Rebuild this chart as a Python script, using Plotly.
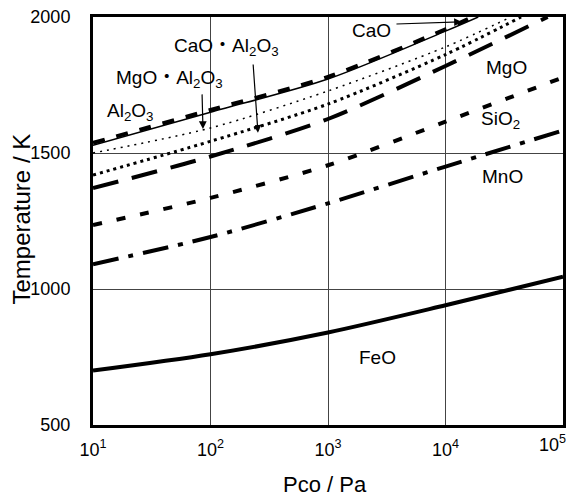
import plotly.graph_objects as go

# ---- data ----
P_dec = [10, 100, 1000, 10000, 100000]

feo_T = [700, 760, 840, 940, 1045]
mno_T = [1091, 1191, 1315, 1450, 1583]
sio2_T = [1235, 1335, 1455, 1615, 1778]

mgo_P = [10, 100, 1000, 10000, 74000]
mgo_T = [1371, 1487, 1625, 1820, 2000]

caoal_P = [10, 100, 1000, 10000, 44000]
caoal_T = [1419, 1543, 1680, 1862, 2000]

mgoal_P = [10, 100, 1000, 10000, 36000]
mgoal_T = [1500, 1592, 1728, 1890, 2000]

cao_P = [10, 100, 1000, 10000, 19000]
cao_T = [1528, 1650, 1772, 1948, 2000]

al2o3_P = [10, 100, 1000, 10000, 17000]
al2o3_T = [1537, 1658, 1780, 1955, 2000]

x_tickvals = [10, 100, 1000, 10000, 100000]
x_ticktext = ["10<sup>1</sup>", "10<sup>2</sup>", "10<sup>3</sup>", "10<sup>4</sup>", "10<sup>5</sup>"]
y_tickvals = [500, 1000, 1500, 2000]

FONT = "Liberation Sans, Arial, Noto Sans CJK JP, sans-serif"

fig = go.Figure()

def add(xs, ys, width, dash):
    fig.add_trace(go.Scatter(x=xs, y=ys, mode="lines",
                             line=dict(color="black", width=width, dash=dash,
                                       shape="spline", smoothing=0.8),
                             showlegend=False, hoverinfo="skip"))

add(P_dec, feo_T, 4, "solid")
add(P_dec, mno_T, 4, "26px,10px,5px,10px")
add(P_dec, sio2_T, 4, "9px,15px")
add(mgo_P, mgo_T, 4, "26px,14px")
add(caoal_P, caoal_T, 3, "3px,4px")
add(mgoal_P, mgoal_T, 1.5, "2px,5px")
add(al2o3_P, al2o3_T, 4, "12px,12px")
add(cao_P, cao_T, 1.5, "solid")

ann = []
def label(x, y, text, size=19):
    ann.append(dict(x=x, y=y, xref="x", yref="y", text=text, showarrow=False,
                    font=dict(family=FONT, size=size, color="black"),
                    xanchor="center", yanchor="middle"))

label(3.374, 1952, "CaO")
label(4.523, 1816, "MgO")
label(4.472, 1621, "SiO<sub>2</sub>")
label(4.489, 1412, "MnO")
label(3.417, 750, "FeO")
label(1.315, 1651, "Al<sub>2</sub>O<sub>3</sub>")
label(1.655, 1772, "MgO・Al<sub>2</sub>O<sub>3</sub>")
label(2.132, 1890, "CaO・Al<sub>2</sub>O<sub>3</sub>")

def arrow(tx, ty, hx, hy):
    ann.append(dict(x=hx, y=hy, ax=tx, ay=ty, xref="x", yref="y", axref="x", ayref="y",
                    text="", showarrow=True, arrowhead=2, arrowsize=1.3,
                    arrowwidth=1.2, arrowcolor="black", standoff=0, startstandoff=0))

arrow(3.57, 1974, 4.14, 1982)
arrow(1.928, 1721, 1.936, 1588)
arrow(2.362, 1831, 2.404, 1574)

# axis titles as text annotations
ann.append(dict(x=-0.152, y=0.505, xref="paper", yref="paper", text="Temperature / K",
                textangle=-90, showarrow=False, xanchor="center", yanchor="middle",
                font=dict(family=FONT, size=24, color="black")))
ann.append(dict(x=0.494, y=-0.147, xref="paper", yref="paper", text="Pco / Pa",
                showarrow=False, xanchor="center", yanchor="middle",
                font=dict(family=FONT, size=22, color="black")))

# last x tick label sits at the window edge: draw it right-aligned so it stays whole
ann.append(dict(x=1.01, y=-0.012, xref="paper", yref="paper", text=x_ticktext[-1],
                showarrow=False, xanchor="right", yanchor="top",
                font=dict(family=FONT, size=18, color="black")))
tick_text_shown = x_ticktext[:-1] + [""]

# the page body adds an 8px offset, so the figure is sized to fit the window
fig.update_layout(
    width=566, height=493,
    margin=dict(l=85, r=11, t=9, b=76, autoexpand=False),
    paper_bgcolor="white", plot_bgcolor="white",
    font=dict(family=FONT, color="black"),
    annotations=ann,
    xaxis=dict(type="log", range=[1, 5], tickvals=x_tickvals, ticktext=tick_text_shown,
               showgrid=True, gridcolor="#444", gridwidth=1, automargin=False,
               showline=True, linecolor="black", linewidth=3, mirror=True,
               ticks="", tickfont=dict(size=18, family=FONT), ticklabelstandoff=6,
               ticklabeloverflow="allow", zeroline=False),
    yaxis=dict(range=[500, 2000], tickvals=y_tickvals, automargin=False,
               showgrid=True, gridcolor="#444", gridwidth=1,
               showline=True, linecolor="black", linewidth=3, mirror=True,
               ticks="", tickfont=dict(size=18, family=FONT), ticklabelstandoff=16,
               ticklabeloverflow="allow", zeroline=False),
)

fig.write_html("out.html")
